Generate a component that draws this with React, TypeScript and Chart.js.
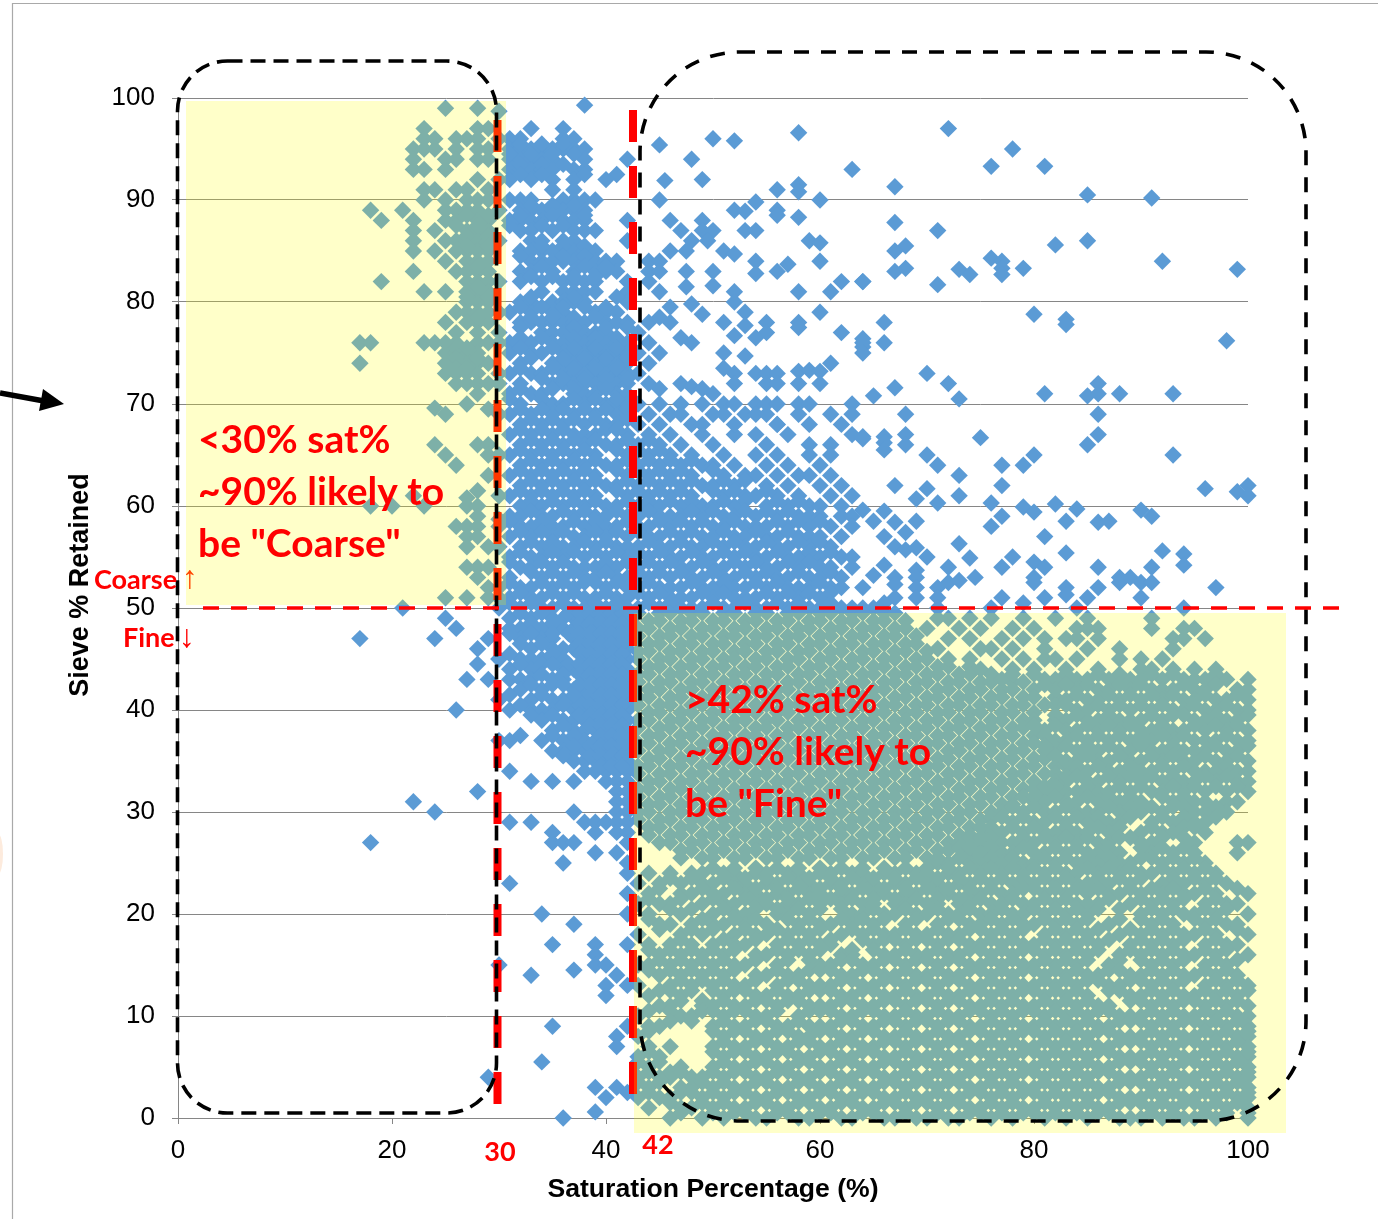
import React, { useEffect, useRef } from "react";
import { Chart, registerables } from "chart.js";
Chart.register(...registerables);

type Row = [number, number[]];

const xTicks = [0, 20, 40, 60, 80, 100];
const yTicks = [0, 10, 20, 30, 40, 50, 60, 70, 80, 90, 100];

const looseUpperRight: [number, number][] = [
[72,97],[78,95],[76,93.3],[81,93.3],[67,91.3],[85,90.5],[91,90.2],[67,87.8],[71,87],[68,85.5],[67,85],[82,85.6],[85,86],[92,84],[76,84.3],[77,84],[77,83.3],[77,82.7],[79,83.3],[68,83.3],[67,83],[73,83.2],[74,82.7],[64,82],[71,81.7],[99,83.2],[66,78],[80,78.8],[83,78.3],[83,77.8],[64,76.4],[64,75.6],[66,76],[98,76.2],[70,73],[72,72],[73,70.5],[65,70.8],[67,71.6],[81,71],[85,70.8],[86,72],[86,71],[88,71],[93,71],[68,69],[86,69],[68,67],[86,67],[85,66],[64,66.8],[66,66.8],[66,66.2],[66,65.5],[68,66],[75,66.7],[93,65],[70,65],[71,64],[80,65],[79,64],[77,64],[73,63],[77,62],[67,62],[70,61.7],[69,60.7],[73,61],[71,60.3],[96,61.7],[99,61.4],[100,62],[100,61],[64,59.6],[66,59.5],[65,58.5],[67,58.4],[69,58.5],[68,57.4],[66,57],[76,60.3],[77,59],[76,58],[79,59.9],[80,59.4],[82,60.2],[84,59.7],[83,58.5],[81,57],[86,58.4],[87,58.5],[90,59.6],[91,59],[92,55.6],[94,55.3],[94,54.2],[73,56.3],[74,54.9],[67,56],[68,55.7],[69,55.9],[70,55],[66,54.2],[65,53.2],[64,52],[67,53],[67,52.3],[69,53.7],[69,53],[69,52],[69,51],[72,54],[71,52],[71,51],[72,52.5],[73,52.7],[74.5,53],[77,54],[78,55],[80,54.5],[81,54],[80,53],[80,52.5],[83,55.4],[83,52],[83,51.3],[81,51],[85,51],[86,54],[86,52],[88,53],[88,52.5],[89,53],[90,52.5],[91,54],[91,52.5],[97,52],[90,51],[77,51],[79,50.5],[84,50],[94,50],[76,50],[67,51],[66,50.5],[65,50],[64,50],[71,50],
[58,96.6],[45,95.4],[50,96],[52,95.8],[48,94],[45.5,91.9],[49,92],[63,93],[56,91],[58,91.5],[58,90.8],[60,90],[45,90],[54,89.8],[52,89],[53,88.9],[56,89],[56,88.5],[58,88.3],[53,87],[54,87],[59,86],[60,85.8],[60,84],[46,88],[47,87],[49,88],[48,86],[49,87],[50,87],[49.5,86],[46,85],[47.5,85],[51,85],[52,84.7],[54,84],[54,82.8],[56,83],[57,83.7],[62,82],[64,82],[58,81],[61,81],[50,83],[50,81.6],[47.5,83],[47.5,81.5],[45,81],[44,84],[45,84],[44,83],[45,83],[44,82],[52,81],[52,80],[48,79.8],[53,79],[60,79],[49,78.8],[55,78],[58,78],[58,77.5],[51,78],[53,77.7],[55,77],[52,76.7],[54,76.5],[62,77],[64,76],[64,75],[46,79.5],[45,78.5],[44,78],[46,78],[47,76.5],[48,76],[45,75],[51,75],[53,74.7],[51,73.5],[52,73],[52,72],[54,73],[55,73],[56,73],[58,73.2],[59,73.3],[60,73.2],[61,74],[58,72],[55,72],[56,72],[60,72],[47,72],[48,71.7],[49,71.5],[50,71],[45,71.5],[43,77],[44,76],[43,75],[44,74],[43,73],[44,72],
[63,70],[61,69],[63,69],[62,68],[63,67],[64,66.6],[63,61],[49,67],[52,67],[56,68]
];

const midBlueRows: Row[] = [
[99.3,[38]],[97,[33,36]],[96,[31,32,36,37]],[95,[31,32,33,34,35,36,37,38]],[94,[31,32,33,34,35,38,42]],[93,[31,32,33,34,35,37,38]],[92.5,[41]],[92,[31,33,35,37,40]],[91,[35,37]],[90,[31,32,33,36,37,38,39]],[89,[32,33,34,35,36,37,38]],[88,[31,32,33,34,36,37,38,42]],[87,[32,33,35,37,38,39]],[86,[33,34,36,37,42]],[85,[32,33,34,35,37,38,39]],[84,[33,34,35,36,37,38,39,40,41]],[83,[32,33,35,37,39,40,41]],[82,[32,34,36,37,38,39,42]],[81,[34,36,37,38,39,42]],[80,[32,33,35,36,37,38,42]],[79,[31,33,35,36,39,40,41]],[78,[32,33,34,35,36,37,38,40,41,42]],[77,[34,35,36,38,39,40]],[76,[31,33,35,36,37,38,39,40,41,42]],[75,[31,33,34,36,37,38,39,40,41,42]],[74,[32,35,36,37,38,39,40,41,42]],[73,[31,33,34,36,37,38,39,40,41,42]],[72,[32,35,36,37,38,39,40,41,42]],[71,[31,33,34,37,38,39,41,42]],[70,[32,35,36,38,40,41,42,43,45,47,49,51,52,54,55,56,58,59]],
[69,[31,33,35,37,39,41,42,44,46,47,50,51,53,54,55,58]],[68,[32,34,36,38,40,41,43,45,48,49,52,56,59]],[67,[31,33,35,37,38,39,42,44,46,54,57]],[66,[32,34,36,38,40,41,43,45,47,50,55,59,61]],[65,[31,33,35,37,39,42,44,46,48,51,54,56,59,61]],[64,[32,34,36,38,40,41,43,45,47,49,50,52,55,57,60]],[63,[31,33,35,37,39,42,44,46,48,51,53,54,56,58,59,61]],[62,[32,34,36,38,40,41,43,45,47,49,50,52,55,57,60,62]],[61,[31,33,35,37,39,42,44,46,48,51,53,54,56,58,61]],[60,[32,34,36,38,40,41,43,45,47,49,50,52,55,57,59,60,62]],
[59,[31,32,34,35,37,39,40,42,43,45,46,47,49,51,52,54,56,58,59,60,62,63]],[58,[30,32,33,35,36,38,40,41,43,44,46,48,50,51,53,54,55,57,59,61,63]],[57,[31,33,35,37,38,40,42,44,45,47,49,50,52,53,55,56,58,59,60,62]],[56,[32,34,36,37,39,41,42,43,45,46,48,49,51,53,54,56,57,59,61]],[55,[31,33,34,36,38,40,42,44,46,47,49,50,52,54,55,57,58,60,62,63]],[54,[32,33,35,37,38,39,41,43,45,47,48,50,51,53,55,56,58,60,61,63]],[53,[31,34,36,38,39,41,42,44,46,48,49,51,52,54,56,57,59,60,62]],[52,[32,33,35,37,40,42,43,45,46,47,49,50,52,53,55,57,58,59,61,62]],[51,[31,33,34,36,38,39,41,42,44,46,47,48,50,52,53,54,56,58,60]],[50,[30,32,34,35,37,38,40,42,43,45,47,48,49,51,52,54,55,57,59,60,62,63]],
[49,[31,33,35,36,37,38,39,40,41,42]],[48,[31,32,34,36,37,38,39,40,41,42]],[47,[32,34,35,37,38,39,40,41,42]],[46,[33,35,36,37,38,39,40,41,42]],[45,[30,32,33,34,36,38,39,40,41,42]],[44,[31,33,36,37,38,39,40,41,42]],[43,[31,32,33,35,36,38,39,40,41,42]],[42,[32,34,37,38,39,40,41,42]],[41,[30,33,35,36,37,38,39,40,41,42]],[40,[31,33,34,35,37,38,39,40,41,42]],[39,[34,36,37,38,39,40,41,42]],[38,[35,37,38,39,40,41,42]],[37,[30,31,34,36,38,39,40,41,42]],[36,[35,36,37,38,39,40,41,42]],[35,[37,38,39,40,41,42]],[34,[31,38,39,40,41,42]],[33,[33,35,37,40,41,42]],[32,[41,42]],[31,[41,42]],[30,[37,41,42]],[29,[31,33,38,39,40,41,42]],[28,[35,39,41,42]],[27,[35,36,37,42]],[26,[39,41]],[25,[36,42]],[24,[42]],[23,[31]],[22,[42]],[20,[34,42]],[19,[37]],[17,[35,39,42]],[16,[39]],[15,[30,39,40]],[14.5,[37]],[14,[33,41]],[13,[40,42]],[12,[40]],[9,[35,42]],[8,[41]],[7,[41]],[5.5,[34]],[4,[29]],[3,[39,41]],[2.5,[42]],[2,[40]],[0.6,[39]],[0,[36]],
[49.5,[36.5,37.5,38.5,39.5,40.5,41.5]],[48.5,[37.5,38.5,39.5,40.5,41.5]],[47.5,[36.5,37.5,38.5,39.5,40.5,41.5]],[46.5,[37.5,38.5,39.5,40.5,41.5]],[45.5,[37.5,38.5,39.5,40.5,41.5]],[44.5,[36.5,37.5,38.5,39.5,40.5,41.5]],[43.5,[37.5,38.5,39.5,40.5,41.5]],[42.5,[37.5,38.5,39.5,40.5,41.5]],[41.5,[38.5,39.5,40.5,41.5]],[40.5,[37.5,38.5,39.5,40.5,41.5]],[39.5,[37.5,38.5,39.5,40.5,41.5]],[38.5,[38.5,39.5,40.5,41.5]],[37.5,[39.5,40.5,41.5]],[36.5,[38.5,39.5,40.5,41.5]],[35.5,[38.5,39.5,40.5,41.5]],[34.5,[39.5,40.5,41.5]]
];

const midBlueFillRows: Row[] = [
[95.5,[32,34,36]],[94.5,[31,33,35,37]],[93.5,[32,34,36]],[92.5,[32,34,38]],[89.5,[33,35,37]],[88.5,[32,35,38]],[87.5,[31,34,36]],[85.5,[34,36,38]],[84.5,[32,36,38]],[83.5,[34,38,40]],[82.5,[33,35,37,39]],[80.5,[33,37,41]],[79.5,[32,34,36,38,40]],[78.5,[33,35,37,39]],[77.5,[32,37,40,42]],[76.5,[32,34,37,39,41]],
[75.5,[32,35,37,39,41]],[74.5,[33,36,38,40,42]],[73.5,[32,35,37,39,41]],[72.5,[34,36,38,40,42]],[71.5,[32,35,37,40]],[70.5,[31,34,37,39,41]],[69.5,[32,34,36,38,40,42]],[68.5,[33,35,37,39,42]],[67.5,[32,34,36,40,41]],[66.5,[33,35,37,39,42,44]],[65.5,[32,34,36,38,41,43,45]],[64.5,[33,35,37,39,42,44,46,48]],[63.5,[32,34,36,38,41,43,45,47,50]],[62.5,[33,35,37,39,42,44,46,48,51,53]],[61.5,[32,34,36,38,41,43,45,47,50,52,55]],[60.5,[33,35,37,39,42,44,46,48,51,53,56,58]],
[59.5,[33,36,38,41,44,48,50,53,55,57]],[58.5,[31,34,37,39,42,45,47,49,52,56,58,60]],[57.5,[32,34,36,39,41,43,46,48,51,54,57]],[56.5,[33,35,38,40,44,47,50,52,55,58,60]],[55.5,[32,35,37,39,41,43,45,48,51,53,56,59,61]],[54.5,[31,34,36,40,42,44,46,49,52,54,57,59]],[53.5,[33,35,37,40,43,45,47,50,53,55,58,61]],[52.5,[31,34,36,38,39,41,44,48,51,54,56,60]],[51.5,[32,35,37,40,43,45,49,51,55,57,59,61]],[50.5,[31,33,36,39,41,44,46,50,53,56,58,61]],
[49.5,[32,34]],[48.5,[33,35]],[47.5,[31,33,35]],[46.5,[32,34]],[45.5,[31,35]],[44.5,[32,34,35]],[43.5,[34,36]],[42.5,[33,35,36]],[41.5,[31,34,37]],[40.5,[32,36]],[39.5,[33,35]],[38.5,[36]],[37.5,[32,35,37]],[36.5,[37]],[35.5,[36]]
];

const lowLeftPoints: [number, number][] = [[17,47],[24,47],[25,49],[26,48],[29,47],[28,46],[28,44.5],[27,43],[29,43],[30,45],[30,41],[26,40],[28,32],[22,31],[24,30],[18,27],[21,50]];

const coarseRows: Row[] = [
[99,[25,28]],[98.7,[30]],[97,[23,28,29]],[96,[23,24,26,27,28,30]],[95,[22,23,24,26,28,29]],[94,[22,25,26,28,29]],[93,[22,23,25]],[92,[28,30]],[91,[23,24,26,27,29]],[90,[23,25,27,28,29]],[89,[18,21,25,26,27,28,30]],[88,[19,22,25,26,28,29]],[87,[22,24,27,28,29]],[86,[22,25,26,27,28,29,30]],[85,[22,24,26,27,28,29]],[84,[25,27,28,29]],[83,[22,26,27,28,29]],[82,[19,27,28,29,30]],[81,[23,25,27,28,29]],[80,[27,28,29]],[79,[26,27,28,29,30]],[78,[25,27,28,29]],[77,[26,28,30]],[76,[17,18,23,24,25,26,28,29,30]],[75,[25,26,27,28]],[74,[17,25,26,27,28,29]],[73,[25,26,27,28,30]],[72,[26,27,28,29,30]],[71,[28]],[70,[27]],[69.6,[24]],[69.5,[29]],[69,[25,30]],[66,[24,28,29]],[65,[25,29,30]],[64,[26]],[63,[29]],[61.5,[28]],[61,[22,30]],[60.8,[27]],[60,[18,20,23,27,28]],[59,[28]],[58.7,[30]],[58,[26,27,28]],[57,[27,28]],[56,[27,29,30]],[54,[27,28,29]],[53,[28]],[52,[29,30]],[51,[25,27,29,30]],
[88.5,[27,29]],[87.5,[26,28]],[86.5,[27,29]],[85.5,[27,29]],[83.5,[28]],[81.5,[28]],[80.5,[27,29]],[78.5,[28]],[75.5,[26,27]],[74.5,[26,28]],[73.5,[26,27]]
];

const fineSolidRows: Row[] = [
[49.5,[43,45,46,48,49,51,52,54,55,57,58,60,61,63,64,66,67]],
[48.75,[44,45,47,48,50,51,53,54,56,57,59,60,62,63,65,66,68]],
[48,[43,44,46,47,49,50,52,53,55,56,58,59,61,62,64,65,67,68]],
[47.25,[43,45,46,48,49,51,52,54,55,57,58,60,61,63,64,66,67,69]],
[46.5,[44,45,47,48,50,51,53,54,56,57,59,60,62,63,65,66,68,69]],
[45.75,[43,44,46,47,49,50,52,53,55,56,58,59,61,62,64,65,67,68,70]],
[45,[43,45,46,48,49,51,52,54,55,57,58,60,61,63,64,66,67,69,70]],
[44.25,[44,45,47,48,50,51,53,54,56,57,59,60,62,63,65,66,68,69,71,72,74]],
[43.5,[43,44,46,47,49,50,52,53,55,56,58,59,61,62,64,65,67,68,70,71,73,74,76]],
[42.75,[43,45,46,48,49,51,52,54,55,57,58,60,61,63,64,66,67,69,70,72,73,75,76,78,79]],
[42,[44,45,47,48,50,51,53,54,56,57,59,60,62,63,65,66,68,69,71,72,74,75,77,78,80]],
[41.25,[43,44,46,47,49,50,52,53,55,56,58,59,61,62,64,65,67,68,70,71,73,74,76,77,79,80,82]],
[40.5,[43,45,46,48,49,51,52,54,55,57,58,60,61,63,64,66,67,69,70,72,73,75,76,78,79,81,82]],
[39.75,[44,45,47,48,50,51,53,54,56,57,59,60,62,63,65,66,68,69,71,72,74,75,77,78,80]],
[39,[43,44,46,47,49,50,52,53,55,56,58,59,61,62,64,65,67,68,70,71,73,74,76,77,79,80,82]],
[38.25,[43,45,46,48,49,51,52,54,55,57,58,60,61,63,64,66,67,69,70,72,73,75,76,78,79]],
[37.5,[44,45,47,48,50,51,53,54,56,57,59,60,62,63,65,66,68,69,71,72,74,75,77,78,80]],
[36.75,[43,44,46,47,49,50,52,53,55,56,58,59,61,62,64,65,67,68,70,71,73,74,76,77,79,80]],
[36,[43,45,46,48,49,51,52,54,55,57,58,60,61,63,64,66,67,69,70,72,73,75,76,78,79,81,82]],
[35.25,[44,45,47,48,50,51,53,54,56,57,59,60,62,63,65,66,68,69,71,72,74,75,77,78,80,81]],
[34.5,[43,44,46,47,49,50,52,53,55,56,58,59,61,62,64,65,67,68,70,71,73,74,76,77,79,80,82,83]],
[33.75,[43,45,46,48,49,51,52,54,55,57,58,60,61,63,64,66,67,69,70,72,73,75,76,78,79,81,82]],
[33,[44,45,47,48,50,51,53,54,56,57,59,60,62,63,65,66,68,69,71,72,74,75,77,78,80]],
[32.25,[43,44,46,47,49,50,52,53,55,56,58,59,61,62,64,65,67,68,70,71,73,74,76,77,79,80]],
[31.5,[43,45,46,48,49,51,52,54,55,57,58,60,61,63,64,66,67,69,70,72,73,75,76,78,79]],
[30.75,[44,45,47,48,50,51,53,54,56,57,59,60,62,63,65,66,68,69,71,72,74,75,77,78]],
[30,[43,44,46,47,49,50,52,53,55,56,58,59,61,62,64,65,67,68,70,71,73,74,76,77]],
[29.25,[43,45,46,48,49,51,52,54,55,57,58,60,61,63,64,66,67,69,70,72,73,75,76]],
[28.5,[44,45,47,48,50,51,53,54,56,57,59,60,62,63,65,66,68,69,71,72,74,75]],
[27.75,[44,46,47,49,50,52,53,55,56,58,59,61,62,64,65,67,68,70,71,73,74]],
[27,[45,46,48,49,51,52,54,55,57,58,60,61,63,64,66,67,69,70,72,73]],
[26.25,[47,48,50,51,53,54,56,57,59,60,62,63,65,66,68,69,71,72]],
[25.5,[47,49,50,52,53,55,56,58,59,61,62,64,65,67,68,70]]
];

const fineGappyRows: Row[] = [
[49,[71,72,74,76,79,82,85,91]],[48,[70,73,75,78,80,84,85,86,91,94,95]],[47,[72,74,77,79,81,83,84,86,93,94,96]],[46,[71,75,76,78,81,85,88,93]],[45,[72,74,77,79,81,82,84,88,90,92]],[44,[75,78,80,83,86,90,91,93,95,97]],[43,[77,81,82,84,85,87,89,90,92,94,95,96,98,100]],[42,[82,84,86,87,89,91,92,93,95,96,99,100]],[41,[83,85,86,88,90,92,94,95,97,98,100]],[40,[84,85,87,89,91,93,94,96,97,99,100]],[39,[83,85,86,88,89,90,92,95,96,98,99]],[38,[81,83,84,86,88,90,91,93,94,96,98,100]],[37,[82,83,85,87,89,91,93,95,96,97,99,100]],[36,[84,86,88,89,91,92,94,95,96,98,99]],[35,[83,84,86,87,89,90,92,94,95,97,98,100]],[34,[84,85,87,88,90,91,93,95,96,97,99,100]],[33,[82,83,85,86,88,90,92,94,95,97,99,100]],[32,[81,83,84,86,87,89,91,92,94,96,98,100]],[31,[80,81,83,84,86,88,90,93,95,96,98,99]],[30,[79,81,82,84,85,86,88,90,92,95,96,98]],[29,[78,80,81,83,85,87,88,91,93,95,96]],[28,[76,77,79,81,82,84,85,87,90,92,93,96]],[27,[75,77,78,80,82,84,86,87,90,91,95,99,100]],[26,[74,75,77,78,80,81,83,85,86,88,91,93,95,99]],[25,[71,72,74,75,77,79,80,82,84,86,88,89,92,94,96]],
[24,[44,46,48,49,51,52,54,55,57,58,60,61,63,64,66,67,69,70,72,73,75,77,79,81,83,84,86,88,90,91,93,95,97]],
[23,[43,45,47,49,50,52,53,55,56,58,59,61,62,64,65,67,68,70,71,73,74,76,78,80,82,84,85,87,89,92,94,96,98]],
[22,[44,47,48,50,51,53,54,56,57,59,60,62,63,65,66,68,69,71,72,74,75,77,78,81,83,85,87,88,90,92,94,95,97,100]],
[21,[43,45,46,49,51,52,54,55,57,58,60,62,64,65,67,68,70,71,73,74,76,77,79,80,82,84,85,86,89,91,93,96,98,99]],
[20,[44,47,50,52,53,56,57,59,63,64,66,67,69,70,72,73,75,76,78,79,81,83,85,90,92,94,95,97,100]],
[19,[45,46,48,50,51,53,55,58,60,61,63,65,68,71,74,75,77,79,80,82,84,87,91,93,96,98,99]],
[18,[43,47,49,52,54,55,57,59,62,64,66,67,69,70,72,73,76,78,81,83,85,88,90,92,94,95,97,100]],
[17,[44,46,48,50,52,53,56,58,60,61,65,68,71,74,75,77,79,80,82,84,86,89,91,93,96,98,99]],
[16,[45,47,49,51,54,55,57,59,62,63,66,67,69,70,72,73,76,78,81,83,85,88,90,92,94,95,97,100]],
[15,[43,44,46,48,50,52,53,56,60,61,64,65,68,71,74,75,77,79,80,82,84,87,91,93,96,98]],
[14,[45,47,49,51,54,55,57,58,62,63,66,67,69,70,72,73,76,78,81,83,85,86,89,90,92,94,95,97,99]],
[13,[43,46,48,50,52,53,56,59,60,61,64,65,68,71,74,75,77,79,80,82,84,87,88,91,93,96,98,100]],
[12,[44,47,51,54,55,57,58,62,63,66,67,69,70,72,73,76,78,81,83,85,89,90,92,94,95,97,99]],
[11,[45,46,49,50,52,53,56,59,60,61,64,65,68,71,74,75,77,79,80,82,84,86,87,91,93,96,98,100]],
[10,[43,47,48,51,54,55,58,62,63,66,67,69,70,72,73,76,78,81,83,85,88,89,90,92,94,95,97,99,100]],
[9,[44,45,50,52,53,56,57,59,60,61,64,65,68,71,74,75,77,79,80,82,84,86,87,91,93,96,98,100]],
[8,[43,51,54,55,58,59,62,63,66,67,69,70,72,73,76,78,81,83,85,88,89,90,92,94,95,97,99,100]],
[7,[44,46,50,52,53,56,57,60,61,64,65,68,71,74,75,77,79,80,82,84,86,87,91,93,96,98,100]],
[6,[43,45,51,54,55,58,59,62,63,66,67,69,70,72,73,76,78,81,83,85,88,89,90,92,94,95,97,99,100]],
[5,[44,47,50,52,53,56,57,60,61,64,65,68,71,74,75,77,79,80,82,84,86,87,91,93,96,98,100]],
[4,[43,45,46,48,49,51,54,55,58,59,62,63,66,67,69,70,72,73,76,78,81,83,85,88,89,90,92,94,95,97,99,100]],
[3,[44,47,48,50,52,53,56,57,60,61,64,65,68,71,74,75,77,79,80,82,84,86,87,91,93,96,98,100]],
[2,[43,45,46,49,51,54,55,58,59,62,63,66,67,69,70,72,73,76,78,81,83,85,88,89,90,92,94,95,97,99,100]],
[1,[44,47,48,50,52,53,56,57,60,61,64,65,68,71,74,75,77,79,80,82,84,86,87,91,93,96,98,100]],
[0,[46,49,51,54,55,58,59,62,63,66,67,69,70,72,73,76,78,81,83,85,88,89,90,92,94,95,97,100]]
];

const fineFillRows: Row[] = [
[43.5,[78,80,83,86,88,91,93,97]],[42.5,[81,83,85,88,90,94,97]],[41.5,[84,87,89,91,93,96,99]],[40.5,[83,86,88,90,92,95,98]],[39.5,[82,84,87,91,93,94,97,100]],[38.5,[80,82,85,87,89,92,95,97,99]],[37.5,[81,84,86,88,90,92,94,98]],[36.5,[81,83,85,87,90,93,97,100]],[35.5,[82,85,88,91,93,96,99]],[34.5,[84,86,89,92,94,98]],[33.5,[83,84,87,89,91,93,96,98]],[32.5,[81,82,85,88,90,93,95,97,99]],[31.5,[79,80,82,85,87,89,92,94]],[30.5,[78,80,83,87,89,91,93,94,97]],[29.5,[76,77,79,82,84,86,89,92,94,97]],[28.5,[75,76,78,80,83,86,88,91,94,95]],[27.5,[74,75,76,79,81,83,85,88,89,92,94]],[26.5,[73,74,76,79,82,84,87,90,92,94]],[25.5,[71,73,75,76,78,81,83,85,87,90,91,93,95]],
[24.5,[50,52,54,56,58,60,62,64,66,68,70,72,74,76,78,80,82,85,87,89,92,94,96]],
[23.5,[46,48,51,53,55,57,59,61,63,65,67,69,71,73,75,77,79,81,83,86,88,90,93,95,97]],
[22.5,[45,49,52,54,56,58,60,62,64,66,68,70,72,74,76,79,80,82,84,86,89,91,93,96,99]],
[21.5,[44,47,50,53,55,57,59,61,63,65,67,69,71,73,75,78,81,83,87,90,92,94,97]],
[20.5,[46,48,51,54,56,58,60,62,65,68,71,74,77,80,82,84,86,88,91,93,96,98]],
[19.5,[44,49,52,54,57,59,62,64,66,69,72,73,76,78,81,83,85,88,90,92,95,97]],
[18.5,[45,48,50,53,56,58,60,63,65,68,71,74,75,77,79,82,84,86,89,91,93,96,99]],
[17.5,[47,51,54,57,59,61,64,66,67,69,70,72,73,76,78,81,83,85,87,90,92,94,97]],
[16.5,[44,46,48,50,52,56,58,60,63,65,68,71,74,75,77,79,80,82,84,86,89,91,93,96,98]],
[15.5,[45,47,49,51,54,57,59,62,63,66,67,69,70,72,73,76,78,81,83,85,88,90,92,94,97,99]],
[14.5,[44,46,48,50,52,56,59,60,61,64,65,68,71,74,75,77,79,80,82,84,87,88,91,93,96,98]],
[13.5,[47,49,51,54,57,58,62,63,66,67,69,70,72,73,76,78,81,83,85,86,89,90,92,94,97,99]],
[12.5,[45,46,48,50,52,53,56,59,60,61,64,65,68,71,74,75,77,79,80,82,84,87,88,91,93,96,98,100]],
[11.5,[47,49,51,54,55,57,58,62,63,66,67,69,70,72,73,76,78,81,83,85,89,90,92,94,95,97,99]],
[10.5,[44,46,49,50,52,53,56,59,60,61,64,65,68,71,74,75,77,79,80,82,84,86,87,91,93,96,98]],
[9.5,[46,48,51,54,55,58,62,63,66,67,69,70,72,73,76,78,81,83,85,88,89,90,92,94,95,97,99]],
[8.5,[44,50,52,53,56,57,60,61,64,65,68,71,74,75,77,79,80,82,84,86,87,91,93,96,98,100]],
[7.5,[51,54,55,58,59,62,63,66,67,69,70,72,73,76,78,81,83,85,88,89,90,92,94,95,97,99]],
[6.5,[44,50,52,53,56,57,60,61,64,65,68,71,74,75,77,79,80,82,84,86,87,91,93,96,98,100]],
[5.5,[43,45,51,54,55,58,59,62,63,66,67,69,70,72,73,76,78,81,83,85,88,89,90,92,94,95,97,99]],
[4.5,[44,46,47,50,52,53,56,57,60,61,64,65,68,71,74,75,77,79,80,82,84,86,87,91,93,96,98,100]],
[3.5,[43,45,49,51,54,55,58,59,62,63,66,67,69,70,72,73,76,78,81,83,85,88,89,90,92,94,95,97,99]],
[2.5,[44,47,48,50,52,53,56,57,60,61,64,65,68,71,74,75,77,79,80,82,84,86,87,91,93,96,98,100]],
[1.5,[46,49,51,54,55,58,59,62,63,66,67,69,70,72,73,76,78,81,83,85,88,89,90,92,94,95,97,99]],
[0.5,[47,50,52,53,56,57,60,61,64,65,68,71,74,75,77,79,80,82,84,86,87,91,93,96,98,100]]
];

const expand = (rows: Row[]) => rows.flatMap(([y, xs]) => xs.map((x) => ({ x, y })));
const points = [
  ...looseUpperRight.map(([x, y]) => ({ x, y })),
  ...lowLeftPoints.map(([x, y]) => ({ x, y })),
  ...expand(midBlueRows),
  ...expand(midBlueFillRows),
  ...expand(coarseRows),
  ...expand(fineSolidRows),
  ...expand(fineGappyRows),
  ...expand(fineFillRows),
];

const overlay = {
  id: "overlay",
  beforeDraw(chart: any) {
    const c = chart.ctx;
    c.save();
    c.fillStyle = "#fff";
    c.fillRect(0, 0, 1378, 1219);
    c.strokeStyle = "#A9A9A9";
    c.lineWidth = 1.2;
    c.beginPath();
    c.moveTo(12.5, 1219);
    c.lineTo(12.5, 3.5);
    c.lineTo(1378, 3.5);
    c.stroke();
    c.fillStyle = "#FDEBDD";
    c.beginPath();
    c.ellipse(-2, 854, 5, 20, 0, 0, Math.PI * 2);
    c.fill();
    c.restore();
  },
  afterDatasetsDraw(chart: any) {
    const c = chart.ctx;
    c.save();
    const dash = (x: number, y0: number, y1: number) => {
      c.strokeStyle = "#FF0000";
      c.lineWidth = 8;
      c.setLineDash([32, 24]);
      c.beginPath();
      c.moveTo(x, y0);
      c.lineTo(x, y1);
      c.stroke();
      c.setLineDash([]);
    };
    dash(497.5, 120, 1104);
    dash(633, 110, 1096);
    c.fillStyle = "rgba(255,255,0,0.21)";
    c.fillRect(186, 101, 320, 504);
    c.fillRect(634, 613, 652, 520);
    c.strokeStyle = "#000";
    c.lineWidth = 3.6;
    c.setLineDash([15, 8]);
    c.beginPath();
    c.roundRect(177.5, 61, 319, 1052, 50);
    c.stroke();
    c.setLineDash([15, 12]);
    c.beginPath();
    c.roundRect(640, 52, 666, 1069, 100);
    c.stroke();
    c.strokeStyle = "#FF0000";
    c.lineWidth = 3.5;
    c.setLineDash([16, 12]);
    c.beginPath();
    c.moveTo(203, 608);
    c.lineTo(1340, 608);
    c.stroke();
    c.setLineDash([]);
    // arrow
    c.strokeStyle = "#000";
    c.fillStyle = "#000";
    c.lineWidth = 5.5;
    c.beginPath();
    c.moveTo(0, 393);
    c.lineTo(44, 401);
    c.stroke();
    c.beginPath();
    c.moveTo(43, 389);
    c.lineTo(64, 404);
    c.lineTo(39, 411);
    c.closePath();
    c.fill();
    // labels
    c.textBaseline = "middle";
    c.textAlign = "left";
    c.fillStyle = "#FF0000";
    c.font = "bold 39px Lato";
    ['<30% sat%', '~90% likely to', 'be "Coarse"'].forEach((t, i) => c.fillText(t, 198, 440 + 52 * i));
    ['>42% sat%', '~90% likely to', 'be "Fine"'].forEach((t, i) => c.fillText(t, 685, 700 + 52 * i));
    c.font = "bold 27px Lato";
    c.fillText("Coarse", 94, 580);
    c.fillText("Fine", 123, 638);
    c.font = "bold 27px Lato";
    c.textAlign = "center";
    c.fillText("30", 500, 1152);
    c.fillText("42", 658, 1145);
    c.font = "32px 'Liberation Sans'";
    c.fillText("↓", 187, 638);
    c.fillStyle = "#FF4500";
    c.fillText("↑", 190, 579);
    // y title
    c.fillStyle = "#000";
    c.font = "bold 27px 'Liberation Sans'";
    c.translate(81, 585);
    c.rotate(-Math.PI / 2);
    c.fillText("Sieve % Retained", 0, 0);
    c.restore();
  },
};

export default function App() {
  const ref = useRef<HTMLCanvasElement>(null);
  useEffect(() => {
    document.body.style.margin = "0";
    const chart = new Chart(ref.current!, {
      type: "scatter",
      data: {
        datasets: [
          {
            data: points,
            pointStyle: "rectRot",
            pointRadius: 8.7,
            pointBorderWidth: 0,
            pointBackgroundColor: "#5B9BD5",
            clip: false,
          } as any,
        ],
      },
      options: {
        animation: false,
        responsive: false,
        layout: { padding: { top: 98, right: 130, left: 0, bottom: 0 } },
        plugins: { legend: { display: false }, tooltip: { enabled: false } },
        scales: {
          x: {
            type: "linear",
            min: 0,
            max: 100,
            afterFit: (s: any) => { s.height = 101; },
            afterBuildTicks: (s: any) => { s.ticks = xTicks.map((value) => ({ value })); },
            grid: { drawOnChartArea: false, color: "#868686", tickLength: 6 },
            border: { color: "#868686" },
            ticks: { color: "#000", padding: 11, maxRotation: 0, font: { family: "'Liberation Sans'", size: 26 } },
            title: {
              display: true,
              text: "Saturation Percentage (%)",
              color: "#000",
              font: { family: "'Liberation Sans'", size: 26.6, weight: "bold" },
              padding: { top: 0, bottom: 13 },
            },
          },
          y: {
            type: "linear",
            min: 0,
            max: 100,
            afterFit: (s: any) => { s.width = 178; },
            afterBuildTicks: (s: any) => { s.ticks = yTicks.map((value) => ({ value })); },
            grid: { color: "#868686", tickLength: 6 },
            border: { color: "#868686" },
            ticks: { color: "#000", padding: 17, font: { family: "'Liberation Sans'", size: 26 } },
          },
        },
      },
      plugins: [overlay],
    } as any);
    return () => chart.destroy();
  }, []);
  return <canvas ref={ref} width={1378} height={1219} style={{ display: "block", width: 1378, height: 1219 }} />;
}
